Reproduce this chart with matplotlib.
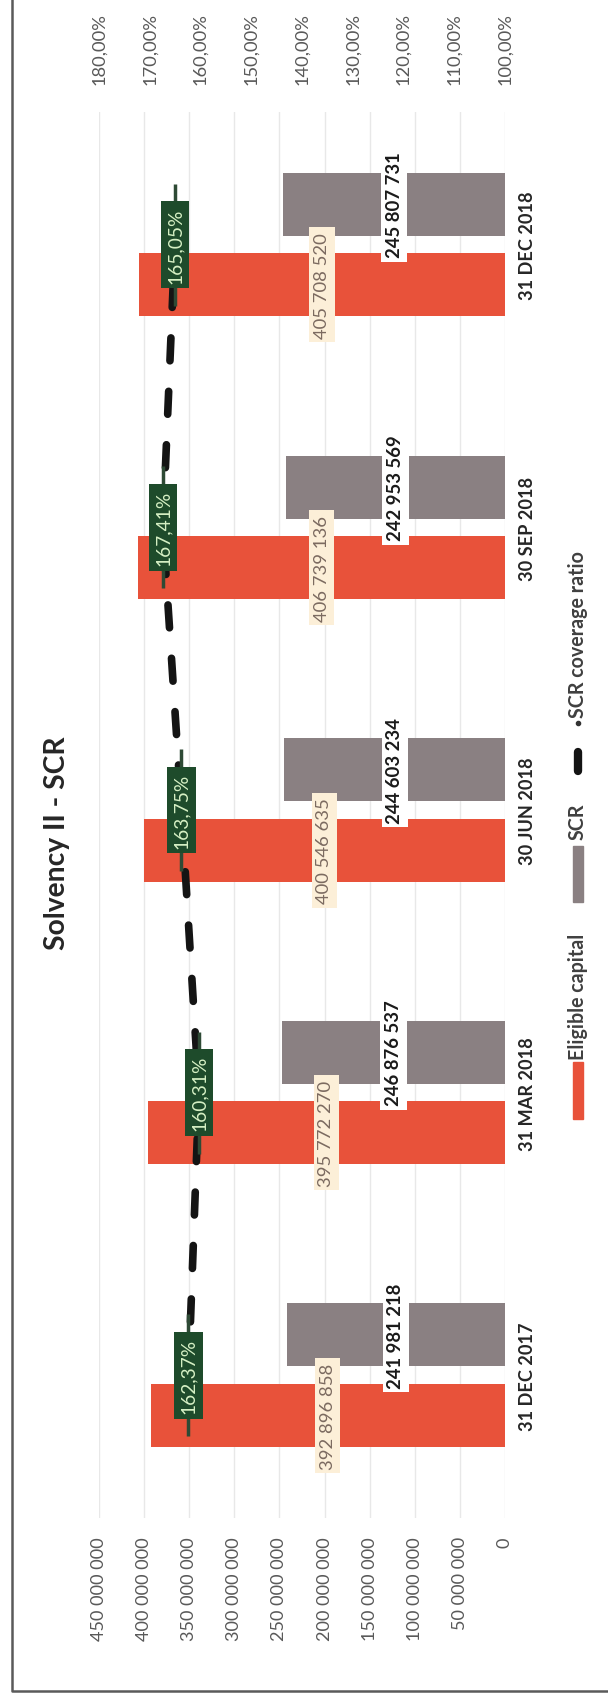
import numpy as np
import matplotlib.pyplot as plt
from matplotlib.font_manager import FontProperties
from matplotlib.textpath import TextPath
from matplotlib.patches import Rectangle

DPI = 100
FONT = 'Lato'

categories = ['31 DEC 2017', '31 MAR 2018', '30 JUN 2018', '30 SEP 2018', '31 DEC 2018']
eligible_capital = [392896858, 395772270, 400546635, 406739136, 405708520]
scr = [241981218, 246876537, 244603234, 242953569, 245807731]
coverage_ratio = [162.37, 160.31, 163.75, 167.41, 165.05]

value_ticks = [0, 50000000, 100000000, 150000000, 200000000,
               250000000, 300000000, 350000000, 400000000, 450000000]
ratio_ticks = [100, 110, 120, 130, 140, 150, 160, 170, 180]

RED = '#E8523A'
GREY = '#8A8082'
GREEN = '#1E4B2B'


def fit(text, px, weight='normal'):
    # font size (pt) so that the ink of `text` is `px` pixels long
    path = TextPath((0, 0), text, size=10, prop=FontProperties(family=FONT, weight=weight))
    return 10 * px * 72 / (path.get_extents().width * DPI)


def spaced(v):
    return f'{v:,}'.replace(',', ' ')


def pct(v):
    return f'{v:.2f}'.replace('.', ',') + '%'


fig = plt.figure(figsize=(6.08, 16.99), dpi=DPI)

# overlay in pixel coordinates for frame, title and legend
ov = fig.add_axes([0, 0, 1, 1])
ov.set_xlim(0, 608)
ov.set_ylim(1699, 0)
ov.axis('off')

ax = fig.add_axes([99 / 608, 1 - 1519 / 1699, (505 - 99) / 608, (1519 - 113) / 1699])

pos = np.arange(len(categories))
h = 0.223
ax.barh(pos - 0.142, eligible_capital, height=h, color=RED, zorder=2)
ax.barh(pos + 0.143, scr, height=h, color=GREY, zorder=2)
ax.set_xlim(450000000, 0)
ax.set_ylim(-0.505, 4.47)

ax.set_xticks(value_ticks)
ax.set_xticklabels([spaced(v) for v in value_ticks], rotation=90,
                   fontsize=fit('450 000 000', 103), color='#595959', family=FONT)
ax.tick_params(axis='x', length=0, pad=13)
ax.yaxis.tick_right()
ax.set_yticks(pos)
ax.set_yticklabels(categories, rotation=90, va='center', fontsize=fit('30 JUN 2018', 106, 'bold'),
                   fontweight='bold', color='#262626', family=FONT)
ax.tick_params(axis='y', length=0, pad=10)
ax.grid(axis='x', color='#E8E8E8', lw=1)
ax.set_axisbelow(True)
for s in ax.spines.values():
    s.set_visible(False)

for p, v in zip(pos, eligible_capital):
    ax.text(v / 2, p - 0.142, spaced(v), rotation=90, ha='center', va='center',
            fontsize=fit('405 708 520', 105), color='#7B6A60', family=FONT, zorder=5,
            bbox=dict(boxstyle='square,pad=0.25', fc='#FCEFD8', ec='none'))
for p, v in zip(pos, scr):
    ax.text(v / 2, p + 0.143, spaced(v), rotation=90, ha='center', va='center',
            fontsize=fit('245 807 731', 104, 'bold'), fontweight='bold', color='#1A1A1A',
            family=FONT, zorder=5,
            bbox=dict(boxstyle='square,pad=0.25', fc='white', ec='none'))

ax2 = ax.twiny()
ax2.set_xlim(180, 100)
ax2.set_xticks(ratio_ticks)
ax2.set_xticklabels([pct(v) for v in ratio_ticks], rotation=90,
                    fontsize=fit('180,00%', 70), color='#595959', family=FONT)
ax2.tick_params(axis='x', length=0, pad=20)
for s in ax2.spines.values():
    s.set_visible(False)

ax2.plot(coverage_ratio, pos, color='#141414', lw=5.5, dashes=(3, 4),
         dash_capstyle='round', zorder=3)
ax2.plot(coverage_ratio, pos, ls='none', marker='|', ms=88, mew=2.5, color='#2E4A35', zorder=4)
for p, r in zip(pos, coverage_ratio):
    ax2.text(r, p, pct(r), rotation=90, ha='center', va='center',
             fontsize=fit('165,05%', 73), color='#D6F0C4', family=FONT, zorder=6,
             bbox=dict(boxstyle='square,pad=0.3', fc=GREEN, ec='none'))

# frame of the scanned page
ov.plot([12, 12, 620], [-10, 1692, 1692], color='#5A5A5A', lw=1.8, clip_on=False)

ov.text(57, 843, 'Solvency II - SCR', rotation=90, ha='center', va='center',
        fontsize=fit('Solvency II - SCR', 213, 'bold'), fontweight='bold',
        color='#262626', family=FONT)

leg_size = fit('Eligible capital', 123, 'bold')
ov.add_patch(Rectangle((573, 1063), 10, 57, color=RED))
ov.text(578, 1060, 'Eligible capital', rotation=90, ha='center', va='bottom',
        fontsize=leg_size, fontweight='bold', color='#404040', family=FONT)
ov.add_patch(Rectangle((573, 847), 10, 56, color=GREY))
ov.text(578, 840, 'SCR', rotation=90, ha='center', va='bottom',
        fontsize=leg_size, fontweight='bold', color='#404040', family=FONT)
ov.plot([578, 578], [753, 772], color='#141414', lw=6, solid_capstyle='round')
ov.plot([578], [724], marker='o', ms=3, color='#333333')
ov.text(578, 718, 'SCR coverage ratio', rotation=90, ha='center', va='bottom',
        fontsize=leg_size, fontweight='bold', color='#404040', family=FONT)

fig.savefig('out.png', dpi=DPI)
